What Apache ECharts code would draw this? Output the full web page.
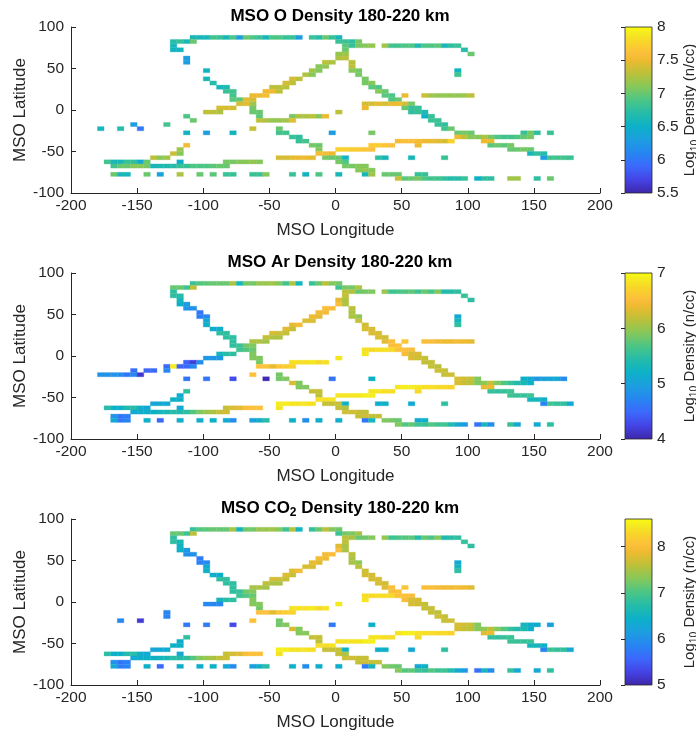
<!DOCTYPE html>
<html><head><meta charset="utf-8">
<script src="https://cdn.jsdelivr.net/npm/echarts/dist/echarts.min.js"></script>
<style>html,body{margin:0;padding:0;background:#fff}#c{width:696px;height:734px}</style>
</head><body><div id="c"></div>
<script>
// ---- data: each run = [lat bin lower edge, lon bin left edge, values of consecutive 5-deg cells...]
const LON_TICKS = [-200, -150, -100, -50, 0, 50, 100, 150, 200];
const LAT_TICKS = [-100, -50, 0, 50, 100];
const TITLES = ['MSO O Density 180-220 km', 'MSO Ar Density 180-220 km', 'MSO CO2 Density 180-220 km'];
const O_RANGE = [5.5, 8];
const AR_RANGE = [4, 7];
const CO2_RANGE = [5, 8.6];

const O_RUNS = [
[85,-110, 6.6,6.6,6.6,6.85,6.8,6.6,6.9,6.3,7.0,6.9,6.8,6.6,6.9,6.9,6.8,6.8,6.3],
[85,-20, 6.8,6.7,7.0,6.8,6.6],
[80,-125, 6.7,6.8,6.6,7.0],
[80,0, 6.8,6.8,6.75,7.05],
[75,-125, 6.6],
[75,5, 6.95,6.8,7.05,7.1,7.15],
[75,35, 7.2,6.85,6.85,6.9,6.9,6.65,6.9,6.9,6.95,6.6,6.75,6.8],
[70,-125, 6.55,6.55],
[70,5, 7.0],
[70,95, 6.7],
[65,0, 7.15,7.2],
[65,100, 7.0],
[60,-115, 6.3],
[60,0, 7.25,7.3],
[55,-115, 6.3],
[55,-10, 7.3,7.25],
[55,10, 7.3],
[50,-15, 7.1,7.15],
[50,10, 7.3],
[45,-100, 6.55],
[45,-20, 7.2,7.1],
[45,10, 7.1,7.05],
[45,90, 6.55],
[40,-25, 7.25,7.1],
[40,15, 7.05],
[40,90, 6.85],
[35,-100, 6.6],
[35,-35, 7.4,7.3],
[35,20, 7.05],
[30,-95, 6.7],
[30,-40, 7.4,7.3],
[30,20, 7.05,7.1],
[25,-90, 6.6,6.65],
[25,-50, 7.3,7.3,7.3],
[25,25, 6.95,6.9],
[20,-85, 6.8,6.85],
[20,-55, 7.5,7.5,7.3],
[20,30, 7.1,7.0],
[15,-80, 6.85],
[15,-65, 7.5,7.5,7.55],
[15,35, 6.95,6.9],
[15,50, 7.5],
[15,65, 7.35,7.2,7.15,7.15,7.15,7.15,7.2,7.3],
[10,-80, 6.95,6.95,7.45,7.4],
[10,40, 6.9,7.0],
[5,-75, 7.4,7.45,7.2],
[5,20, 7.4,7.4,7.45,7.4,7.5,7.5,7.4,7.05],
[0,-90, 7.4,7.4,7.4],
[0,-65, 7.05],
[0,20, 7.5],
[0,50, 7.0,6.8,6.8],
[-5,-100, 7.3,7.3,7.25],
[-5,-65, 7.0,7.0],
[-5,0, 7.3],
[-5,55, 6.75,6.8,6.65],
[-10,-115, 6.9],
[-10,-60, 6.95],
[-10,-35, 7.05,7.25,7.25,7.3,7.1,7.5],
[-10,65, 6.5,6.8],
[-15,-110, 7.0],
[-15,-60, 7.3,7.25,7.15,7.15,7.2,7.45],
[-15,70, 6.8,6.8],
[-20,-155, 6.3],
[-20,-130, 6.85],
[-20,75, 6.8,6.75],
[-25,-180, 6.6],
[-25,-165, 6.7],
[-25,-150, 6.0],
[-25,-65, 7.35],
[-25,-45, 7.0],
[-25,80, 6.85,7.0],
[-30,-115, 6.55],
[-30,-100, 6.3],
[-30,-80, 6.55],
[-30,-45, 6.85,6.85],
[-30,-5, 6.3],
[-30,25, 7.05],
[-30,90, 7.0,7.05,7.0],
[-30,140, 6.8,7.05,6.75],
[-30,160, 6.8],
[-35,-35, 6.8,6.75],
[-35,90, 7.5,7.3,7.1,7.1,7.25,7.05,6.9,6.85,6.85,6.9,7.0,7.05],
[-40,-30, 6.8,6.85],
[-40,45, 7.55,7.6,7.6,7.55,7.5,7.5,7.45,7.4,7.75],
[-40,110, 7.5,7.5],
[-45,-115, 7.55],
[-45,-20, 7.05,7.0],
[-45,25, 7.7,7.7,7.65,7.6],
[-45,60, 7.5],
[-45,115, 6.95,7.0,6.95,7.05],
[-50,-120, 7.2],
[-50,-15, 7.1],
[-50,0, 7.75,7.75,7.7,7.7,7.65,7.6],
[-50,130, 7.0,7.0,7.05,7.0],
[-55,-125, 7.35,7.1],
[-55,-15, 7.55,7.55,7.5],
[-55,145, 6.6,6.75,6.7],
[-60,-140, 7.3,7.1,7.2],
[-60,-45, 7.4,7.4,7.45,7.5,7.5,7.45],
[-60,-10, 7.05,7.0,7.0,6.55],
[-60,30, 6.75,6.6],
[-60,55, 6.6],
[-60,80, 6.8],
[-60,155, 6.3,6.85,6.85,6.85,6.8],
[-65,-175, 6.85,6.6,6.6,6.8,6.75,6.4,7.0],
[-65,-120, 6.45],
[-65,-85, 7.05,7.05,7.1,7.1,7.15,7.1],
[-65,0, 7.05,6.9],
[-70,-170, 6.85,7.0,7.0,7.1,7.1,7.05,6.6,6.65,6.65,6.7,6.8,6.8,6.9,6.9,6.9,6.95,7.0,7.0],
[-70,5, 7.05,7.05,7.1,7.1],
[-75,15, 7.1,7.15,7.1],
[-80,-170, 7.0,6.6,6.6],
[-80,-145, 7.0],
[-80,-135, 6.35],
[-80,-120, 7.25],
[-80,-105, 7.0],
[-80,-95, 6.95],
[-80,-85, 6.8,6.8],
[-80,-65, 6.8,6.8,7.1],
[-80,-35, 6.8],
[-80,-25, 6.55],
[-80,-15, 6.9],
[-80,0, 6.6],
[-80,20, 6.6,7.2],
[-80,35, 7.0,7.0,7.0],
[-80,60, 6.8,6.8],
[-85,45, 7.35,6.95,7.0,7.05,6.9,6.85,6.85,6.75,6.7,6.7,6.8],
[-85,105, 6.5,6.75,6.75],
[-85,130, 7.2,7.2],
[-85,150, 6.75],
[-85,160, 7.0]
];

const AR_RUNS = [
[85,-110, 5.55,5.7,5.75,5.8,5.8,5.8,6.1,5.3,5.85,5.85,6.0,6.0,6.05,5.9,5.6,6.1,5.3],
[85,-20, 5.55,5.8,6.15,5.9,5.85],
[80,-125, 5.8,5.8,5.6,6.15],
[80,0, 5.6,5.85,5.85,6.1],
[75,-125, 5.5],
[75,5, 6.15,6.1,5.8,5.85,5.9],
[75,35, 6.0,5.6,5.65,5.7,5.75,5.6,5.8,5.65,5.9,5.4,5.45,5.5],
[70,-125, 5.5,5.45],
[70,5, 6.2],
[70,95, 5.55],
[65,-120, 5.3],
[65,0, 6.35,6.1],
[65,100, 5.5],
[60,-120, 5.2,4.95],
[60,0, 6.5,6.1],
[55,-115, 4.85,4.85],
[55,-10, 6.5,6.5],
[55,10, 6.15],
[50,-105, 4.6],
[50,-15, 6.45,6.45],
[50,10, 6.1],
[45,-105, 4.65,4.75],
[45,-20, 6.4,6.35],
[45,10, 6.1,5.95],
[45,90, 5.1],
[40,-100, 5.1],
[40,-25, 6.3,6.3],
[40,15, 6.2],
[40,90, 5.3],
[35,-100, 5.2],
[35,-35, 6.35,6.45],
[35,20, 6.25],
[35,90, 5.5],
[30,-95, 5.15,5.15],
[30,-40, 6.35,6.2],
[30,20, 6.3,6.3],
[25,-90, 5.5,5.5],
[25,-50, 6.3,6.25,6.2],
[25,25, 6.3,6.3],
[20,-85, 5.5,5.5],
[20,-55, 6.2,6.1,6.1],
[20,30, 6.3,6.25],
[15,-80, 5.5],
[15,-65, 6.1,6.1,6.05],
[15,35, 6.35,6.5],
[15,50, 6.6],
[15,65, 6.5,6.5,6.45,6.4,6.4,6.45,6.4,6.35],
[10,-80, 5.5,5.55,5.85,5.9],
[10,40, 6.5,6.55],
[5,-75, 5.6,5.7,5.8],
[5,20, 6.8,6.75,6.8,6.8,6.75,6.55,6.55,6.5],
[0,-90, 5.3,5.45,5.5],
[0,-65, 5.9],
[0,20, 6.85],
[0,50, 6.5,6.3,6.3],
[-5,-100, 4.9,4.9,4.9],
[-5,-65, 5.9,5.9],
[-5,0, 6.85],
[-5,55, 6.3,6.25,6.2],
[-10,-115, 4.45,4.2,4.8],
[-10,-60, 5.85],
[-10,-35, 6.8,6.8,6.8,6.85,6.75,6.8],
[-10,65, 6.2,6.2],
[-15,-130, 4.5,6.9,4.45,4.5,4.75],
[-15,-60, 6.55,6.55,6.35,6.6,6.65,6.7],
[-15,70, 6.2,6.15],
[-20,-155, 4.55],
[-20,-145, 4.5,4.5],
[-20,-130, 4.75],
[-20,75, 6.25,6.2],
[-25,-180, 4.85,4.85,4.85,4.8,4.6,4.75,4.15],
[-25,-65, 6.55],
[-25,-45, 5.85],
[-25,80, 6.2,6.25],
[-30,-115, 4.6],
[-30,-100, 4.6],
[-30,-80, 4.3],
[-30,-55, 4.05],
[-30,-45, 5.85,5.9],
[-30,-5, 4.6],
[-30,25, 5.2],
[-30,90, 6.3,6.25,6.2,5.9],
[-30,140, 5.2,5.1,4.9,5.0,5.05,5.1,4.8],
[-35,-35, 6.3,5.9],
[-35,90, 6.3,6.2,6.15,5.9,5.95,6.2,5.9,5.7,5.55,5.4,5.35,5.2],
[-40,-30, 5.9,5.9],
[-40,45, 6.85,6.9,6.9,6.85,6.8,6.8,6.75,6.75,6.7],
[-40,110, 6.35,6.4],
[-45,-115, 5.5],
[-45,-20, 6.2,6.2],
[-45,25, 6.85,6.85,6.8,6.8],
[-45,60, 6.75],
[-45,115, 5.55,5.5,5.55,5.6],
[-50,-120, 5.15],
[-50,-15, 6.15],
[-50,0, 6.85,6.85,6.85,6.85,6.9,6.9],
[-50,130, 5.6,5.55,5.55,5.6],
[-55,-125, 5.2,5.2],
[-55,-15, 6.8,6.8,6.85],
[-55,145, 5.3,5.3,5.2],
[-60,-140, 5.05,5.1,5.1],
[-60,-45, 6.9,6.9,6.85,6.85,6.85,6.8],
[-60,-10, 6.2,6.2,6.2,5.2],
[-60,30, 5.15,5.2],
[-60,55, 5.1],
[-60,80, 5.5],
[-60,155, 4.7,5.6,5.55,5.5,5.1],
[-65,-175, 5.45,5.2,5.2,5.4,5.45,5.15,5.1],
[-65,-120, 5.1],
[-65,-85, 6.2,6.3,6.35,6.5,6.55,6.55],
[-65,-45, 6.85],
[-65,0, 6.2,6.1],
[-70,-155, 5.1,5.15,5.2,5.2,5.3,5.35,5.45,5.4,5.5,5.7,5.9,6.0,6.1,6.2,6.25],
[-70,5, 6.25,6.25,6.2,6.2],
[-75,-170, 4.85,4.6,4.65],
[-75,15, 6.2,6.25,6.2,6.2],
[-80,-170, 5.1,4.6,4.7],
[-80,-145, 5.2],
[-80,-135, 4.5],
[-80,-120, 5.15],
[-80,-105, 5.15],
[-80,-95, 5.2],
[-80,-85, 5.1,4.8],
[-80,-65, 5.0,5.15,5.45],
[-80,-35, 5.2],
[-80,-25, 4.8],
[-80,-15, 5.15],
[-80,0, 5.15],
[-80,20, 4.6,5.3],
[-80,35, 5.9,5.85,5.8],
[-80,60, 5.1,5.2],
[-85,45, 5.9,5.7,5.75,5.6,5.55,5.7,5.6,5.6,5.4,5.1,4.9],
[-85,105, 4.55,5.3,4.8],
[-85,130, 5.55,5.1],
[-85,150, 5.1],
[-85,160, 5.5]
];

const CO2_RUNS = [
[85,-110, 6.85,7.05,7.1,7.15,7.15,7.15,7.5,6.55,7.2,7.2,7.4,7.4,7.45,7.3,6.9,7.55,6.55],
[85,-20, 6.85,7.15,7.6,7.3,7.2],
[80,-125, 7.15,7.15,6.9,7.6],
[80,0, 6.9,7.2,7.25,7.5],
[75,-125, 6.8],
[75,5, 7.6,7.5,7.15,7.2,7.3],
[75,35, 7.4,6.9,7.0,7.05,7.1,6.7,7.15,7.0,7.3,6.65,6.75,6.8],
[70,-125, 6.8,6.6],
[70,5, 7.6],
[70,95, 6.85],
[65,-120, 6.5],
[65,0, 7.8,7.5],
[65,100, 6.8],
[60,-120, 6.45,6.1],
[60,0, 8.0,7.5],
[55,-115, 6.0,6.0],
[55,-10, 7.95,8.0],
[55,10, 7.6],
[50,-105, 5.75],
[50,-15, 7.95,7.9],
[50,10, 7.5],
[45,-105, 5.8,5.9],
[45,-20, 7.85,7.8],
[45,10, 7.5,7.35],
[45,90, 6.3],
[40,-100, 6.35],
[40,-25, 7.75,7.75],
[40,15, 7.6],
[40,90, 6.55],
[35,-100, 6.45],
[35,-35, 7.8,7.95],
[35,20, 7.7],
[35,90, 6.8],
[30,-95, 6.4,6.4],
[30,-40, 7.8,7.65],
[30,20, 7.75,7.75],
[25,-90, 6.8,6.8],
[25,-50, 7.75,7.7,7.65],
[25,25, 7.75,7.75],
[20,-85, 6.8,6.8],
[20,-55, 7.6,7.5,7.5],
[20,30, 7.75,7.7],
[15,-80, 6.8],
[15,-65, 7.5,7.5,7.45],
[15,35, 7.8,8.0],
[15,50, 8.1],
[15,65, 8.0,8.0,7.95,7.9,7.9,7.95,7.9,7.8],
[10,-80, 6.8,6.85,7.2,7.3],
[10,40, 8.0,8.05],
[5,-75, 6.9,7.05,7.15],
[5,20, 8.35,8.3,8.35,8.35,8.3,8.05,8.05,8.0],
[0,-90, 6.55,6.75,6.8],
[0,-65, 7.3],
[0,20, 8.4],
[0,50, 8.0,7.75,7.75],
[-5,-100, 5.9,5.9,5.9],
[-5,-65, 7.3,7.3],
[-5,0, 8.45],
[-5,55, 7.75,7.7,7.65],
[-10,-60, 7.2],
[-10,-35, 8.4,8.4,8.4,8.45,8.3,8.4],
[-10,65, 7.65,7.65],
[-15,-130, 5.85],
[-15,-60, 8.05,8.05,7.8,8.1,8.2,8.25],
[-15,70, 7.65,7.6],
[-20,-130, 5.85],
[-20,75, 7.7,7.65],
[-25,-165, 5.9],
[-25,-150, 5.2],
[-25,-65, 8.05],
[-25,-45, 7.2],
[-25,80, 7.65,7.7],
[-30,-115, 5.75],
[-30,-100, 5.75],
[-30,-80, 5.35],
[-30,-45, 7.2,7.3],
[-30,-5, 5.75],
[-30,25, 6.45],
[-30,90, 7.75,7.7,7.65,7.3],
[-30,140, 6.55,6.4,6.35],
[-30,160, 6.2],
[-35,-35, 7.75,7.3],
[-35,90, 7.75,7.65,7.6,7.3,7.35,7.6,7.3,7.05,6.85,6.7,6.65,6.45],
[-40,-30, 7.3,7.3],
[-40,45, 8.4,8.5,8.5,8.4,8.35,8.35,8.3,8.3,8.25],
[-40,110, 7.8,7.9],
[-45,-115, 6.8],
[-45,-20, 7.65,7.65],
[-45,25, 8.4,8.4,8.35,8.35],
[-45,60, 8.3],
[-45,115, 6.85,6.8,6.85,6.9],
[-50,-120, 6.4],
[-50,-15, 7.6],
[-50,0, 8.4,8.4,8.4,8.4,8.5,8.5],
[-50,130, 6.9,6.85,6.85,6.9],
[-55,-125, 6.45,6.45],
[-55,-15, 8.35,8.35,8.4],
[-55,145, 6.55,6.55,6.45],
[-60,-140, 6.25,6.3,6.3],
[-60,-45, 8.5,8.5,8.4,8.4,8.4,8.35],
[-60,-10, 7.65,7.65,7.65,6.45],
[-60,30, 6.4,6.45],
[-60,55, 6.3],
[-60,80, 6.8],
[-60,155, 5.85,6.9,6.85,6.8,6.3],
[-65,-175, 6.75,6.45,6.45,6.7,6.75,6.4,6.3],
[-65,-120, 6.3],
[-65,-85, 7.65,7.75,7.8,8.0,8.05,8.05],
[-65,-45, 8.4],
[-65,0, 7.65,7.5],
[-70,-155, 6.3,6.4,6.45,6.45,6.55,6.6,6.75,6.7,6.8,7.05,7.3,7.4,7.5,7.65,7.7],
[-70,5, 7.7,7.7,7.65,7.65],
[-75,-170, 6.0,5.7,5.8],
[-75,15, 7.65,7.7,7.65,7.65],
[-80,-170, 6.3,5.75,5.85],
[-80,-145, 6.45],
[-80,-135, 5.6],
[-80,-120, 6.4],
[-80,-105, 6.4],
[-80,-95, 6.45],
[-80,-85, 6.3,5.95],
[-80,-65, 6.2,6.4,6.75],
[-80,-35, 6.45],
[-80,-25, 5.95],
[-80,-15, 6.4],
[-80,0, 6.4],
[-80,20, 5.75,6.55],
[-80,35, 7.3,7.2,7.15],
[-80,60, 6.3,6.45],
[-85,45, 7.3,7.05,7.1,6.9,6.85,7.05,6.9,6.9,6.7,6.3,6.1],
[-85,105, 5.65,6.55,5.95],
[-85,130, 6.85,6.3],
[-85,150, 6.3],
[-85,160, 6.8]
];

// ---- parula-like colour ramp
const PARULA = [
 [0.00,'#3e26a8'],[0.08,'#4443e5'],[0.16,'#3c68fb'],[0.24,'#2785f2'],[0.32,'#1d9ee0'],
 [0.40,'#0cb1c8'],[0.48,'#25bca9'],[0.56,'#4cc685'],[0.64,'#86c85a'],[0.72,'#bcc139'],
 [0.80,'#eeba30'],[0.84,'#fcbf3c'],[0.90,'#f9d22b'],[0.96,'#f5ea1f'],[1.00,'#f9fb0e']
];
function hex2rgb(h){return [parseInt(h.slice(1,3),16),parseInt(h.slice(3,5),16),parseInt(h.slice(5,7),16)];}
function parula(t){
  t=Math.max(0,Math.min(1,t));
  for(let i=1;i<PARULA.length;i++){
    if(t<=PARULA[i][0]){
      const a=PARULA[i-1],b=PARULA[i];const f=(t-a[0])/(b[0]-a[0]);
      const ca=hex2rgb(a[1]),cb=hex2rgb(b[1]);
      return 'rgb('+ca.map((v,k)=>Math.round(v+(cb[k]-v)*f)).join(',')+')';
    }
  }
  return PARULA[PARULA.length-1][1];
}
function cellsFrom(runs){
  const out=[];
  runs.forEach(r=>{for(let i=2;i<r.length;i++) out.push([r[1]+5*(i-2)+2.5, r[0]+2.5, r[i]]);});
  return out;
}

const chart = echarts.init(document.getElementById('c'), null, {renderer:'canvas'});
const AX = '#262626';
const FONT = 'Liberation Sans, Arial, sans-serif';
const TOPS = [27, 273, 519];
const H = 166;
const RANGES = [O_RANGE, AR_RANGE, CO2_RANGE];
const INTERVALS = [0.5, 1, 1];
const RUNS = [O_RUNS, AR_RUNS, CO2_RUNS];

const grids=[], xAxes=[], yAxes=[], series=[], titles=[];
const subRich = {
  b:{fontSize:17,fontWeight:'bold',color:'#000',fontFamily:FONT,lineHeight:22,verticalAlign:'middle'},
  s:{fontSize:12,fontWeight:'bold',color:'#000',fontFamily:FONT,lineHeight:22,verticalAlign:'bottom'}
};
const cbRich = {
  n:{fontSize:15,color:AX,fontFamily:FONT,lineHeight:21,verticalAlign:'middle'},
  s:{fontSize:10.5,color:AX,fontFamily:FONT,lineHeight:21,verticalAlign:'bottom'}
};
for(let p=0;p<3;p++){
  const top=TOPS[p];
  grids.push({left:71, top:top, width:529, height:H, containLabel:false, outerBoundsMode:'none'});
  grids.push({left:625, top:top, width:27, height:H, containLabel:false, outerBoundsMode:'none'});
  const gi=p*2, ci=p*2+1;
  xAxes.push({gridIndex:gi, type:'value', min:LON_TICKS[0], max:LON_TICKS[LON_TICKS.length-1], interval:50,
    name:'MSO Longitude', nameLocation:'middle', nameGap:29, nameMoveOverlap:false,
    nameTextStyle:{fontSize:17,color:AX,fontFamily:FONT},
    axisLine:{show:true,onZero:false,lineStyle:{color:AX,width:1}},
    axisTick:{show:true,inside:true,length:5,lineStyle:{color:AX}},
    axisLabel:{fontSize:15.5,color:AX,margin:5,fontFamily:FONT},
    splitLine:{show:false}});
  yAxes.push({gridIndex:gi, type:'value', min:LAT_TICKS[0], max:LAT_TICKS[LAT_TICKS.length-1], interval:50,
    name:'MSO Latitude', nameLocation:'middle', nameGap:42, nameMoveOverlap:false,
    nameTextStyle:{fontSize:17,color:AX,fontFamily:FONT},
    axisLine:{show:true,onZero:false,lineStyle:{color:AX,width:1}},
    axisTick:{show:true,inside:true,length:5,lineStyle:{color:AX}},
    axisLabel:{fontSize:15.5,color:AX,margin:7,fontFamily:FONT},
    splitLine:{show:false}});
  xAxes.push({gridIndex:ci, type:'value', min:0, max:1, show:false});
  const rg=RANGES[p];
  const maxIsTick = Math.abs(Math.round((rg[1]-rg[0])/INTERVALS[p])*INTERVALS[p]-(rg[1]-rg[0]))<1e-9;
  yAxes.push({gridIndex:ci, type:'value', min:rg[0], max:rg[1], interval:INTERVALS[p], position:'right',
    name:'{n|Log}{s|10}{n| Density (n/cc)}', nameLocation:'middle', nameGap:27, nameRotate:90,
    nameTextStyle:{rich:cbRich},
    axisLine:{show:false},
    axisTick:{show:true,inside:true,length:4,lineStyle:{color:AX}},
    axisLabel:{fontSize:15.5,color:AX,margin:5,fontFamily:FONT,showMaxLabel:maxIsTick,showMinLabel:true},
    splitLine:{show:false}});
  const range=rg;
  series.push({type:'custom', xAxisIndex:gi, yAxisIndex:gi, clip:true,
    encode:{x:0,y:1}, data:cellsFrom(RUNS[p]),
    renderItem:function(params,api){
      const lon=api.value(0), lat=api.value(1), v=api.value(2);
      const a=api.coord([lon-2.5, lat+2.5]), b=api.coord([lon+2.5, lat-2.5]);
      const c=parula((v-range[0])/(range[1]-range[0]));
      return {type:'rect', shape:{x:a[0],y:a[1],width:b[0]-a[0],height:b[1]-a[1]}, style:{fill:c,stroke:c,lineWidth:0.3}};
    }});
  series.push({type:'custom', xAxisIndex:ci, yAxisIndex:ci, clip:false,
    data:[[0, range[0], range[1]]],
    renderItem:function(params,api){
      const a=api.coord([0, api.value(2)]), b=api.coord([1, api.value(1)]);
      const stops=PARULA.map(s=>({offset:s[0], color:s[1]}));
      return {type:'rect', shape:{x:a[0],y:a[1],width:b[0]-a[0],height:b[1]-a[1]},
        style:{fill:new echarts.graphic.LinearGradient(0,1,0,0,stops), stroke:AX, lineWidth:0.8}};
    }});
  const t=TITLES[p];
  const txt = t.indexOf('CO2')>=0 ? '{b|MSO CO}{s|2}{b| Density 180-220 km}' : '{b|'+t+'}';
  titles.push({text:txt, left:335, top:top-27, textAlign:'center', textStyle:{rich:subRich}});
}
chart.setOption({
  animation:false, backgroundColor:'#fff',
  title:titles, grid:grids, xAxis:xAxes, yAxis:yAxes, series:series
});
</script></body></html>
